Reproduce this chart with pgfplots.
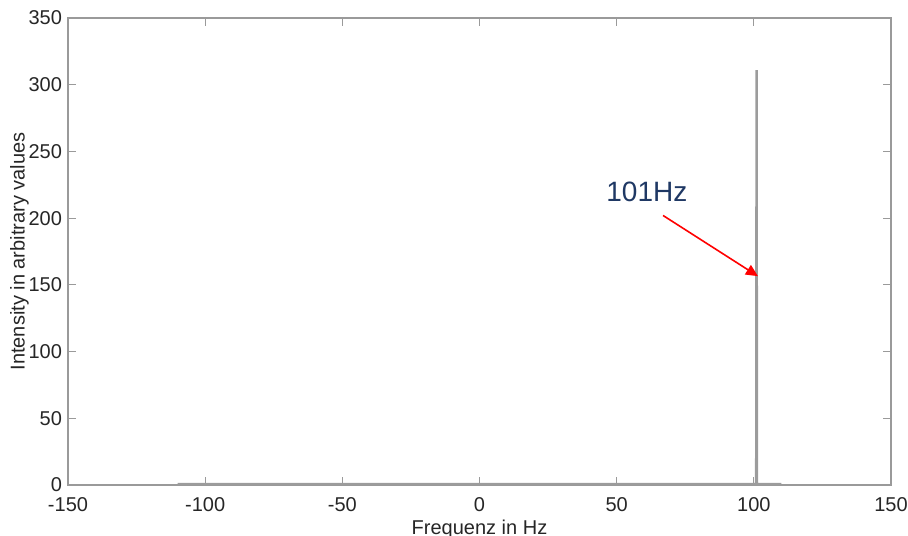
\documentclass[border=0pt]{standalone}
\usepackage{pgfplots}
\pgfplotsset{compat=1.18}
\usepackage{fontspec}
\setmainfont{Liberation Sans}
\usetikzlibrary{arrows.meta}
\definecolor{axgray}{HTML}{9A9A9A}
\definecolor{tickcol}{HTML}{262626}
\definecolor{linegray}{HTML}{9C9C9C}
\definecolor{annblue}{HTML}{1F3864}
\begin{document}
\begin{tikzpicture}[x=0.5pt,y=0.5pt]
\begin{axis}[
	name=ax,
	scale only axis,
	width=411.5pt,
	height=233.5pt,
	xmin=-150, xmax=150,
	ymin=0, ymax=350,
	xtick={-150,-100,...,150},
	ytick={0,50,...,350},
	axis line style={axgray, line width=0.6pt},
	tick style={axgray, line width=0.6pt},
	major tick length=4pt,
	tick align=inside,
	ticklabel style={font=\fontsize{10}{11}\selectfont, text=tickcol},
	xticklabel style={yshift=-2.5pt},
	yticklabel style={xshift=0.5pt},
	/pgf/number format/assume math mode=true,
	xlabel={Frequenz in Hz},
	ylabel={Intensity in arbitrary values},
	label style={font=\fontsize{10}{11}\selectfont, text=tickcol},
	xlabel style={yshift=2.5pt},
	ylabel style={yshift=-7pt},
	clip=false,
]
	\addplot[linegray, line width=1.2pt] coordinates {
		(-110,0.6) (100.85,0.6) (101,311) (101.15,0.6) (110,0.6)
	};
	\node[font=\fontsize{14}{15}\selectfont, text=annblue] at (axis cs:61,219.5) {101Hz};
	\draw[red, line width=0.8pt, -{Triangle[length=6pt,width=5.5pt]}] (axis cs:66.9,202) -- (axis cs:101.5,156.5);
\end{axis}
\pgfresetboundingbox
\useasboundingbox ([xshift=-34pt,yshift=-25.5pt]ax.south west) rectangle ([xshift=8.5pt,yshift=9pt]ax.north east);
\end{tikzpicture}
\end{document}
